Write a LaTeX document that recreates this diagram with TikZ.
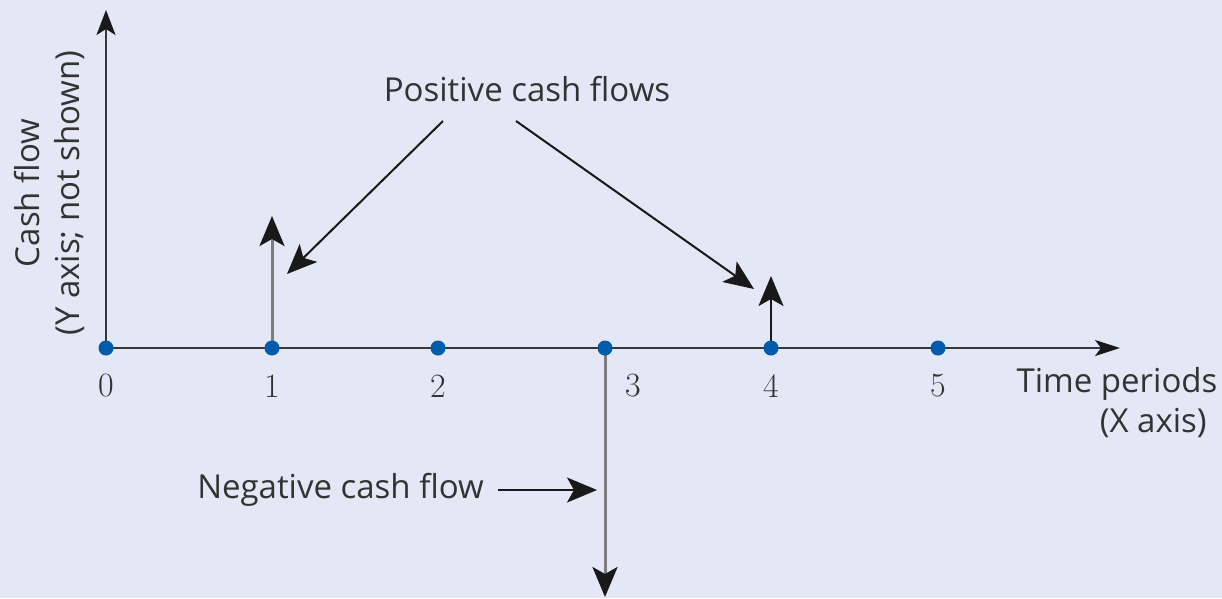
\documentclass[tikz,border=0pt]{standalone}
\usepackage{fontspec}
\setmainfont{Open Sans}
\newfontfamily\numfont{Latin Modern Roman}
\usetikzlibrary{arrows.meta}
\definecolor{bgcol}{RGB}{228,231,245}
\definecolor{dotcol}{RGB}{0,92,170}
\definecolor{axcol}{RGB}{55,55,55}
\definecolor{flowcol}{RGB}{125,125,125}
\definecolor{headcol}{RGB}{25,25,25}
\begin{document}
\begin{tikzpicture}[x=1pt,y=-1pt,
  lbl/.style={font=\fontsize{33}{40}\selectfont, text=black!80, inner sep=0pt},
  num/.style={font=\numfont\fontsize{34}{40}\selectfont, text=black!80, inner sep=0pt},
  tip/.style={-{Stealth[length=30pt,width=25pt,inset=7pt,color=headcol]}},
  dot/.style={circle, fill=dotcol, minimum size=15pt, inner sep=0pt}]
\fill[bgcol] (0,0) rectangle (1222,598);
\useasboundingbox (0,0) rectangle (1222,598);
\foreach \n/\x in {0/106,1/272,2/438,3/605,4/771,5/938}{
  \coordinate (p\n) at (\x,348);
}
\coordinate (yend) at (106,10);
\coordinate (xend) at (1120,348);
\draw[axcol, line width=2pt, -{Stealth[length=25pt,width=19pt,inset=6pt,color=headcol]}] (p0) -- (yend);
\draw[axcol, line width=2pt, -{Stealth[length=25pt,width=16pt,inset=6pt,color=headcol]}] (p0) -- (xend);
\coordinate (f1) at (272,216);
\coordinate (f4) at (771,276);
\coordinate (f3) at (605,597);
\draw[flowcol, line width=3pt, tip] (p1) -- (f1);
\draw[headcol, line width=2pt, tip] (p4) -- (f4);
\draw[flowcol, line width=3pt, tip] (p3) -- (f3);
\foreach \n in {0,...,5}{ \node[dot] (d\n) at (p\n) {}; }
\node[num] (n0) at (106,386) {0};
\node[num] (n1) at (272,386) {1};
\node[num] (n2) at (438,386) {2};
\node[num] (n3) at (633,386) {3};
\node[num] (n4) at (771,386) {4};
\node[num] (n5) at (938,386) {5};
\node[lbl] (pos) at (527,89) {Positive cash flows};
\coordinate (a1) at (287,274);
\coordinate (a2) at (754,289);
\draw[headcol, line width=2pt, tip] (443,121) -- (a1);
\draw[headcol, line width=2pt, tip] (516,121) -- (a2);
\node[lbl, anchor=east] (neg) at (484,490) {Negative cash flow};
\coordinate (nt) at (597,490);
\draw[headcol, line width=2pt, tip] (neg.east) ++(14,0) -- (nt);
\node[lbl, align=center] (time) at (1117,403) {Time periods\\\hspace*{2.2em}(X axis)};
\node[lbl, align=center, rotate=90] (cash) at (49,193) {Cash flow\\(Y axis; not shown)};
\end{tikzpicture}
\end{document}
